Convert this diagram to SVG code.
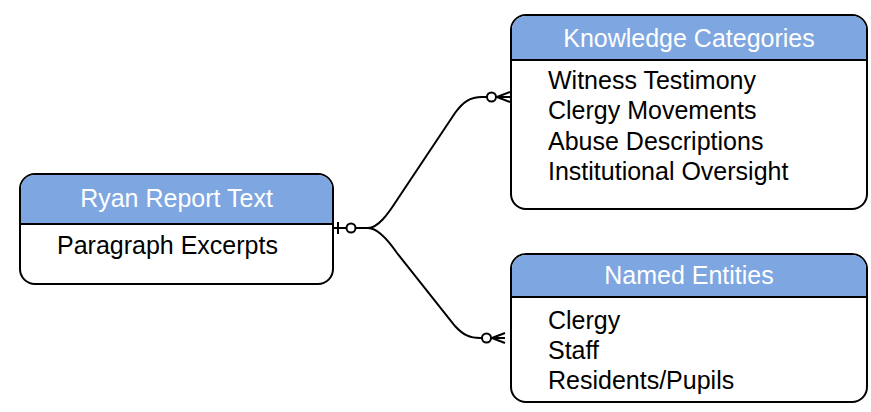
<svg xmlns="http://www.w3.org/2000/svg" width="871" height="412" viewBox="0 0 871 412">
<style>
.box{fill:#ffffff;stroke:#000000;stroke-width:2}
.hdr{fill:#7ea6e0;stroke:none}
.div{stroke:#000000;stroke-width:2}
.ht{font-family:"Liberation Sans",Arial,sans-serif;font-size:25px;fill:#ffffff;text-anchor:middle}
.bt{font-family:"Liberation Sans",Arial,sans-serif;font-size:25px;fill:#000000}
.edge{fill:none;stroke:#000000;stroke-width:2}
.dot{fill:#ffffff;stroke:#000000;stroke-width:2}
</style>
<g id="connectors">
<path class="edge" d="M333,228 H346.5"/>
<line class="edge" x1="338" y1="222" x2="338" y2="234"/>
<circle class="dot" cx="351" cy="228" r="4.5"/>
<path class="edge" d="M355.5,228 H368 C378,228 388,214 397,200 L455,113 C463,102 470,97 482,97 H487"/>
<path class="edge" d="M368,228 C378,228 388,240 397,253 L455,326 C463,335 470,338 480,338 H482"/>
<circle class="dot" cx="491.5" cy="97" r="4.5"/>
<path class="edge" d="M496,97 H511 M497,97 L510,92 M497,97 L510,102"/>
<circle class="dot" cx="486.5" cy="338" r="4.5"/>
<path class="edge" d="M491,338 H505 M492,338 L505,333 M492,338 L505,343"/>
</g>
<g id="ryan">
<rect class="box" x="20" y="174" width="313" height="110" rx="15"/>
<path class="hdr" d="M21,224 V189 A14,14 0 0 1 35,175 H318 A14,14 0 0 1 332,189 V224 Z"/>
<line class="div" x1="20" y1="224" x2="333" y2="224"/>
<text class="ht" x="176.5" y="207">Ryan Report Text</text>
<text class="bt" x="57" y="254">Paragraph Excerpts</text>
</g>
<g id="knowledge">
<rect class="box" x="511" y="15" width="356" height="194" rx="15"/>
<path class="hdr" d="M512,60 V30 A14,14 0 0 1 526,16 H852 A14,14 0 0 1 866,30 V60 Z"/>
<line class="div" x1="511" y1="60" x2="867" y2="60"/>
<text class="ht" x="689" y="47">Knowledge Categories</text>
<text class="bt" x="548" y="89">Witness Testimony</text>
<text class="bt" x="548" y="119">Clergy Movements</text>
<text class="bt" x="548" y="150">Abuse Descriptions</text>
<text class="bt" x="548" y="180">Institutional Oversight</text>
</g>
<g id="entities">
<rect class="box" x="511" y="254" width="356" height="148" rx="15"/>
<path class="hdr" d="M512,297 V269 A14,14 0 0 1 526,255 H852 A14,14 0 0 1 866,269 V297 Z"/>
<line class="div" x1="511" y1="297" x2="867" y2="297"/>
<text class="ht" x="689" y="284">Named Entities</text>
<text class="bt" x="548" y="329">Clergy</text>
<text class="bt" x="548" y="359">Staff</text>
<text class="bt" x="548" y="389">Residents/Pupils</text>
</g>
</svg>
